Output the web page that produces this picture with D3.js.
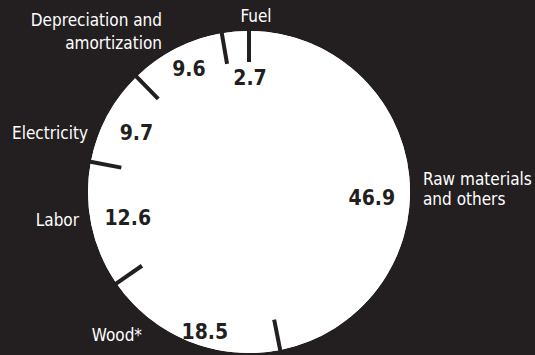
<!DOCTYPE html>
<html>
<head>
<meta charset="utf-8">
<script src="https://cdn.jsdelivr.net/npm/d3@7/dist/d3.min.js"></script>
<style>
  html, body { margin: 0; padding: 0; background: #231f20; }
  svg { display: block; }
  .cat { font-family: 'DejaVu Sans Condensed', 'DejaVu Sans', sans-serif; font-stretch: condensed; fill: #ffffff; font-size: 17px; }
  .val { font-family: 'DejaVu Sans Condensed', 'DejaVu Sans', sans-serif; font-stretch: condensed; font-weight: bold; fill: #231f20; font-size: 21px; }
</style>
</head>
<body>
<svg id="chart" width="535" height="355"></svg>
<script>
// Cost shares (%), clockwise from the top
const categories = ["Raw materials and others", "Wood*", "Labor", "Electricity", "Depreciation and amortization", "Fuel"];
const values = [46.9, 18.5, 12.6, 9.7, 9.6, 2.7];
const valueLabels = ["46.9", "18.5", "12.6", "9.7", "9.6", "2.7"];
const categoryLines = [["Raw materials", "and others"], ["Wood*"], ["Labor"], ["Electricity"], ["Depreciation and", "amortization"], ["Fuel"]];

// Layout of the annotations
const W = 535, H = 355;
const cx = 249, cy = 192, R = 161;
const tickLen = 31;
// value label placement: polar (degrees clockwise from top, radius)
const valuePolar = [[93, 123], [197.5, 147], [258, 124], [297.6, 127], [334, 137], [0.5, 114]];
// category label anchors: [x, y of first baseline, anchor, line step]
const catAnchors = [[423, 185, "start", 20], [142, 341, "end", 0], [79, 226, "end", 0], [88, 139, "end", 0], [162, 26, "end", 23], [256, 22, "middle", 0]];

const svg = d3.select("#chart");
svg.append("rect").attr("width", W).attr("height", H).attr("fill", "#231f20");

const g = svg.append("g").attr("transform", `translate(${cx},${cy})`);

const pie = d3.pie().sort(null).value(d => d)(values);
const arc = d3.arc().innerRadius(0).outerRadius(R);

// solid disc under the slices so no hairline seams show between them
g.append("circle").attr("r", R).attr("fill", "#ffffff");

g.selectAll("path.slice").data(pie).join("path")
  .attr("class", "slice")
  .attr("d", arc)
  .attr("fill", "#ffffff");

// boundary ticks cutting in from the rim
g.selectAll("line.tick").data(pie).join("line")
  .attr("class", "tick")
  .attr("x1", d => Math.sin(d.startAngle) * (R + 3))
  .attr("y1", d => -Math.cos(d.startAngle) * (R + 3))
  .attr("x2", d => Math.sin(d.startAngle) * (R - tickLen))
  .attr("y2", d => -Math.cos(d.startAngle) * (R - tickLen))
  .attr("stroke", "#231f20")
  .attr("stroke-width", 4);

// values inside the slices
g.selectAll("text.val").data(pie).join("text")
  .attr("class", "val")
  .attr("text-anchor", "middle")
  .attr("dominant-baseline", "central")
  .attr("x", (d, i) => Math.sin(valuePolar[i][0] * Math.PI / 180) * valuePolar[i][1])
  .attr("y", (d, i) => -Math.cos(valuePolar[i][0] * Math.PI / 180) * valuePolar[i][1])
  .text((d, i) => valueLabels[i]);

// category names outside
categoryLines.forEach((lines, i) => {
  const [x, y, anchor, step] = catAnchors[i];
  const t = svg.append("text").attr("class", "cat").attr("text-anchor", anchor);
  lines.forEach((ln, j) => {
    t.append("tspan").attr("x", x).attr("y", y + j * step).text(ln);
  });
});
</script>
</body>
</html>
